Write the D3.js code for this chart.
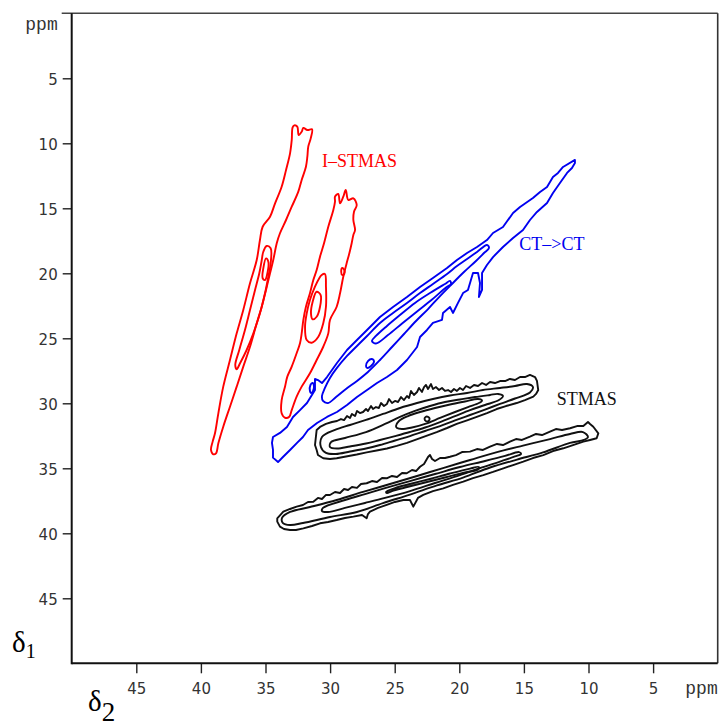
<!DOCTYPE html>
<html>
<head>
<meta charset="utf-8">
<title>STMAS contours</title>
<script src="https://cdn.jsdelivr.net/npm/d3@7"></script>
<style>
  body { margin: 0; background: #fff; }
  svg { display: block; }
  .tick text { font-family: "DejaVu Sans", sans-serif; font-size: 15px; fill: #333; }
  .tick line { stroke: #222; }
</style>
</head>
<body>
<script>
// contour rings, [delta2 ppm, delta1 ppm]
var redLeftOuter = [[32.90,8.77],[32.77,8.62],[32.54,8.72],[32.43,9.36],[32.20,9.11],[32.07,8.82],[31.76,8.98],[31.40,8.92],[31.50,9.62],[31.69,10.26],[31.76,11.03],[31.87,11.80],[32.20,12.82],[32.46,13.72],[32.97,14.88],[33.41,15.90],[33.88,16.92],[34.13,17.69],[34.40,18.98],[34.65,20.00],[34.96,21.28],[35.29,22.57],[35.68,23.85],[36.20,25.65],[36.72,27.18],[37.23,28.72],[37.75,30.26],[38.27,31.80],[38.65,33.08],[38.83,33.85],[39.04,33.92],[39.22,33.59],[39.09,32.95],[38.91,32.31],[38.65,30.77],[38.27,28.72],[37.75,26.67],[37.23,24.62],[36.72,22.82],[36.20,20.77],[35.68,18.98],[35.43,17.44],[35.22,16.42],[34.65,15.65],[34.26,14.62],[33.75,13.34],[33.41,12.05],[33.10,10.77],[32.97,9.75]];
var redLeftMid = [[34.91,17.90],[34.60,18.08],[34.60,19.23],[34.78,20.26],[35.04,21.54],[35.43,23.08],[35.94,24.62],[36.46,25.90],[36.97,26.92],[37.23,27.38],[37.34,27.05],[37.03,25.90],[36.59,24.36],[36.20,22.82],[35.81,21.28],[35.48,20.00],[35.29,18.98],[35.17,18.34]];
var redLeftIn = [[34.96,18.85],[34.78,19.11],[34.83,19.88],[35.04,20.52],[35.22,20.38],[35.17,19.62]];
var redRightOuter = [[29.62,14.11],[29.37,13.90],[29.23,14.62],[28.98,14.11],[28.79,13.59],[28.59,14.36],[28.20,14.23],[27.94,14.75],[28.15,15.26],[28.20,15.90],[28.07,16.67],[28.20,17.05],[28.33,17.69],[28.51,18.46],[28.72,19.23],[28.98,20.26],[29.23,21.54],[29.49,22.57],[30.01,23.59],[30.14,24.62],[30.53,25.65],[31.04,26.67],[31.56,27.69],[32.20,28.72],[32.59,29.49],[32.97,30.52],[33.16,31.03],[33.49,31.11],[33.75,30.77],[33.75,29.75],[33.49,28.72],[33.31,27.95],[32.97,27.18],[32.59,26.15],[32.33,25.38],[32.20,24.62],[32.07,23.59],[31.87,22.57],[31.56,21.54],[31.30,20.52],[31.04,19.75],[30.78,18.72],[30.47,17.69],[30.14,16.42],[29.75,15.13],[29.62,14.49]];
var redRightMid = [[30.65,20.13],[30.40,20.05],[30.32,21.03],[30.32,22.57],[30.53,23.85],[30.91,24.88],[31.42,25.34],[31.81,25.13],[31.94,24.11],[31.81,23.08],[31.56,22.05],[31.17,21.03],[30.84,20.38]];
var redRightIn = [[31.04,21.42],[30.73,21.67],[30.78,22.57],[31.04,23.34],[31.35,23.54],[31.48,23.08],[31.35,22.18]];
var redSpot = [[29.06,19.59],[28.90,19.75],[28.90,20.06],[29.06,20.13],[29.14,19.90]];

var blueOuter = [[11.05,11.28],[11.97,11.82],[12.36,12.28],[12.75,12.59],[13.21,13.36],[13.75,13.75],[14.30,14.21],[15.30,14.90],[15.84,15.36],[16.62,16.44],[17.39,16.90],[17.86,17.44],[18.63,17.98],[19.40,18.44],[20.18,18.98],[20.95,19.59],[22.04,20.36],[23.04,21.05],[24.05,21.82],[25.13,22.59],[26.14,23.36],[27.14,24.36],[27.92,25.13],[28.69,25.90],[29.47,26.90],[30.24,27.98],[30.63,28.44],[30.94,28.21],[31.17,28.13],[31.17,28.98],[31.79,29.98],[32.33,30.52],[32.87,31.05],[33.34,31.82],[33.88,32.28],[34.42,32.59],[34.50,33.05],[34.42,33.59],[34.42,34.18],[34.03,34.52],[33.65,34.13],[33.10,33.59],[32.56,33.05],[32.10,32.59],[31.71,32.05],[31.01,31.52],[30.24,31.05],[29.47,30.67],[28.69,30.13],[27.92,29.52],[27.14,28.98],[26.37,28.44],[25.60,27.98],[24.82,27.44],[24.05,26.67],[23.27,25.67],[23.04,24.90],[22.50,24.36],[22.04,23.82],[21.34,23.59],[21.26,23.05],[20.72,22.59],[20.49,23.05],[20.10,22.28],[19.71,21.52],[19.33,21.28],[19.17,20.75],[18.94,19.98],[18.55,19.98],[18.40,20.75],[18.48,21.82],[18.24,21.28],[18.24,19.98],[17.86,19.36],[17.39,18.75],[16.62,17.98],[15.84,17.28],[15.07,16.67],[14.53,15.90],[13.99,15.28],[13.21,14.59],[12.75,13.82],[12.21,13.05],[11.66,12.28],[11.28,11.90],[11.05,11.52]];
var blueMid = [[17.86,17.82],[18.63,18.36],[19.40,18.90],[20.18,19.44],[20.95,20.05],[22.04,20.82],[23.04,21.52],[24.05,22.28],[25.13,23.05],[26.14,23.82],[27.14,24.82],[27.92,25.59],[28.69,26.36],[29.47,27.28],[30.01,28.05],[30.40,28.82],[30.63,29.44],[30.55,29.82],[30.16,29.98],[29.54,29.52],[28.77,28.90],[27.92,28.28],[27.07,27.59],[26.14,26.67],[25.21,25.67],[24.28,24.67],[23.35,23.67],[22.42,22.75],[21.49,21.75],[20.57,20.82],[19.64,19.90],[18.71,19.05],[18.09,18.44],[17.70,18.05]];
var blueIn = [[20.72,20.59],[21.11,20.82],[22.27,21.52],[23.43,22.28],[24.59,23.21],[25.60,24.05],[26.45,24.82],[26.76,25.21],[26.45,25.40],[25.52,24.75],[24.43,23.86],[23.27,22.94],[22.11,22.02],[21.03,21.09],[20.64,20.82]];
var blueSpotA = [[27.22,27.13],[27.07,26.75],[26.76,26.59],[26.60,26.75],[26.83,27.13],[27.14,27.28]];
var blueSpotB = [[31.56,29.05],[31.52,28.59],[31.36,28.44],[31.25,28.67],[31.32,29.05],[31.48,29.21]];

var blackUpOuter = [[31.04,32.05],[30.78,31.82],[30.32,31.59],[29.85,31.44],[29.47,31.36],[29.16,31.21],[28.92,31.29],[28.69,30.98],[28.46,31.13],[28.31,30.82],[28.07,30.98],[27.92,30.59],[27.69,30.75],[27.45,30.67],[27.22,30.44],[27.07,30.59],[26.83,30.21],[26.68,30.44],[26.45,30.29],[26.22,30.36],[26.06,29.98],[25.83,30.21],[25.60,30.05],[25.44,29.67],[25.21,29.98],[24.98,29.82],[24.74,29.90],[24.51,29.52],[24.28,29.75],[24.05,29.44],[23.89,29.59],[23.74,29.05],[23.51,29.36],[23.27,29.13],[23.12,28.82],[22.89,29.13],[22.73,28.75],[22.58,28.59],[22.42,28.90],[22.19,28.52],[22.04,28.90],[21.80,28.75],[21.57,28.98],[21.34,28.82],[21.11,29.05],[20.87,28.98],[20.64,29.13],[20.41,28.90],[20.18,29.05],[19.95,28.82],[19.71,28.98],[19.48,28.67],[19.17,28.82],[18.86,28.59],[18.55,28.67],[18.24,28.44],[17.93,28.59],[17.62,28.36],[17.24,28.44],[16.85,28.29],[16.46,28.29],[16.08,28.13],[15.69,28.21],[15.30,27.98],[14.92,27.98],[14.53,27.82],[14.14,27.98],[13.99,28.28],[13.89,28.98],[14.06,29.28],[14.27,29.49],[14.92,29.75],[15.56,29.98],[16.39,30.21],[17.11,30.44],[17.86,30.75],[18.65,31.05],[19.40,31.32],[20.20,31.59],[20.95,31.90],[21.75,32.21],[22.50,32.48],[23.30,32.78],[24.05,33.05],[24.84,33.28],[25.60,33.48],[26.40,33.63],[27.17,33.78],[27.94,33.94],[28.77,34.09],[29.49,34.23],[30.01,34.28],[30.53,34.23],[30.94,33.98],[31.04,33.59],[31.17,33.21]];
var blackUpMid = [[30.63,32.59],[29.62,32.05],[28.46,31.67],[27.22,31.28],[25.91,30.82],[24.59,30.36],[23.27,29.98],[22.04,29.67],[20.72,29.40],[19.40,29.21],[18.17,28.98],[16.85,28.82],[15.69,28.67],[14.76,28.52],[14.30,28.75],[14.53,29.17],[15.69,29.63],[16.85,30.05],[18.01,30.48],[19.17,30.90],[20.33,31.32],[21.49,31.75],[22.65,32.13],[23.82,32.52],[24.97,32.86],[26.14,33.21],[27.22,33.48],[28.46,33.71],[29.55,33.90],[30.32,33.82],[30.71,33.36]];
var blackUpIn = [[29.93,32.98],[28.85,32.67],[27.22,32.21],[25.75,31.59],[24.59,31.05],[23.43,30.59],[22.27,30.21],[21.11,29.90],[19.95,29.71],[18.79,29.52],[17.62,29.36],[17.00,29.28],[16.62,29.44],[16.93,29.75],[18.01,30.13],[19.17,30.52],[20.33,30.98],[21.49,31.44],[22.65,31.86],[23.82,32.21],[24.97,32.52],[26.14,32.82],[27.22,33.09],[28.46,33.32],[29.47,33.48],[30.01,33.36]];
var blackUpCore = [[24.90,31.75],[24.67,31.36],[23.97,30.98],[23.04,30.67],[21.88,30.36],[20.72,30.09],[19.56,29.86],[18.55,29.67],[18.24,29.79],[18.48,29.98],[19.33,30.29],[20.33,30.67],[21.49,31.13],[22.65,31.59],[23.66,31.86],[24.44,31.98],[24.82,31.90]];
var blackUpTop = [[22.69,31.21],[22.61,31.05],[22.42,31.04],[22.30,31.17],[22.38,31.36],[22.57,31.38]];

var blackLowOuter = [[34.09,38.85],[33.62,38.34],[33.10,38.13],[32.59,37.95],[32.10,37.82],[31.71,37.59],[31.30,37.57],[30.94,37.28],[30.63,37.36],[30.32,37.05],[30.01,37.05],[29.62,36.82],[29.23,36.90],[28.92,36.59],[28.61,36.67],[28.31,36.44],[27.92,36.51],[27.61,36.21],[27.17,36.15],[26.76,35.98],[26.37,36.05],[25.98,35.75],[25.62,35.77],[25.21,35.59],[24.82,35.67],[24.43,35.36],[24.07,35.38],[23.66,35.13],[23.35,35.21],[23.04,34.88],[22.73,34.67],[22.42,34.13],[22.27,33.98],[22.11,34.28],[21.88,34.44],[21.49,34.21],[21.11,34.21],[20.72,34.11],[20.26,33.98],[19.79,33.75],[19.17,33.72],[18.63,33.52],[18.17,33.59],[17.62,33.34],[17.08,33.13],[16.62,33.21],[16.08,32.95],[15.61,32.75],[15.15,32.82],[14.53,32.57],[14.06,32.36],[13.60,32.44],[12.98,32.18],[12.52,31.98],[12.05,32.05],[11.43,31.92],[10.89,31.75],[10.40,31.75],[10.04,31.44],[9.88,31.59],[9.63,31.80],[9.24,32.31],[9.37,32.69],[9.88,32.82],[10.40,32.95],[11.20,33.21],[11.95,33.46],[12.75,33.67],[13.50,33.98],[14.30,34.21],[15.05,34.49],[15.84,34.75],[16.59,35.00],[17.39,35.28],[18.14,35.52],[18.94,35.75],[19.69,36.03],[20.49,36.28],[21.24,36.54],[22.04,36.75],[22.79,37.05],[23.20,37.28],[23.56,37.95],[23.82,37.44],[24.33,37.44],[24.98,37.59],[25.62,37.82],[26.29,38.05],[26.91,38.34],[27.07,38.52],[27.17,38.85],[27.53,38.59],[28.20,38.72],[28.85,38.82],[29.49,38.98],[30.16,39.13],[30.78,39.23],[31.40,39.44],[32.07,39.62],[32.64,39.75],[33.10,39.75],[33.57,39.67],[33.88,39.49],[34.09,39.10]];
var blackLowMid = [[33.72,38.82],[33.10,38.36],[31.56,37.98],[29.49,37.44],[27.45,36.82],[25.36,36.21],[23.27,35.59],[21.26,34.98],[19.17,34.36],[17.08,33.75],[15.07,33.25],[12.98,32.75],[11.43,32.36],[10.43,32.21],[10.04,32.59],[10.35,32.82],[11.43,33.05],[13.52,33.78],[15.53,34.33],[17.62,34.94],[19.71,35.71],[21.73,36.32],[23.82,37.02],[25.91,37.68],[27.92,38.36],[30.01,38.75],[32.10,39.21],[33.10,39.36],[33.65,39.21]];
var blackLowIn = [[30.55,38.05],[28.85,37.44],[27.30,36.98],[25.75,36.52],[23.82,35.98],[21.88,35.44],[19.95,34.90],[18.01,34.44],[16.46,34.05],[15.38,33.75],[15.22,33.90],[15.69,34.09],[16.85,34.48],[18.40,34.98],[19.95,35.52],[21.88,36.13],[23.82,36.75],[25.75,37.28],[27.30,37.67],[28.85,38.05],[30.16,38.36],[30.63,38.28]];
var blackLowCore = [[25.67,36.82],[24.98,36.52],[23.82,36.21],[22.27,35.82],[20.72,35.40],[19.17,35.02],[18.48,34.90],[18.55,35.09],[19.56,35.32],[21.11,35.71],[22.65,36.09],[24.20,36.48],[25.21,36.75],[25.60,36.90]];

var majorTicks = [5, 10, 15, 20, 25, 30, 35, 40, 45];
var minorTicks = d3.range(1, 50);
var seriesNames = ["I\u2013STMAS", "CT\u2013>CT", "STMAS"];
var labelAnchors = [[30.63, 11.82], [15.36, 18.21], [12.46, 30.13]];

var w = 720;
var h = 727;

var x = d3.scaleLinear().domain([50, 0]).range([71.7, 717.7]);
var y = d3.scaleLinear().domain([0, 50]).range([13.3, 663.3]);

var svg = d3.select("body").append("svg")
	.attr("width", w)
	.attr("height", h);

// frame: top and right edges
svg.append("line")
	.attr("x1", x(50) - 10).attr("x2", x(0))
	.attr("y1", y(0)).attr("y2", y(0))
	.attr("stroke", "#444").attr("stroke-width", 1.6);
svg.append("line")
	.attr("x1", x(0)).attr("x2", x(0))
	.attr("y1", y(0)).attr("y2", y(50))
	.attr("stroke", "#333").attr("stroke-width", 1.6);

// left axis
var gy = svg.append("g").attr("transform", "translate(" + x(50) + ",0)");
gy.call(d3.axisLeft(y).tickValues(minorTicks).tickSize(4).tickFormat(""));
gy.call(d3.axisLeft(y).tickValues(majorTicks).tickSize(9).tickPadding(5).tickSizeOuter(0));
gy.selectAll(".domain").remove();
gy.selectAll(".tick line").attr("stroke-width", 1.4);
gy.selectAll(".tick text").attr("dy", "0.4em");

// bottom axis
var gx = svg.append("g").attr("transform", "translate(0," + y(50) + ")");
gx.call(d3.axisBottom(x).tickValues(minorTicks).tickSize(5).tickFormat(""));
gx.call(d3.axisBottom(x).tickValues(majorTicks).tickSize(10).tickPadding(10).tickSizeOuter(0));
gx.selectAll(".domain").remove();
gx.selectAll(".tick line").attr("stroke-width", 1.4);

svg.append("line")
	.attr("x1", x(50)).attr("x2", x(50))
	.attr("y1", y(0)).attr("y2", y(50) + 1)
	.attr("stroke", "#111").attr("stroke-width", 2);
svg.append("line")
	.attr("x1", x(50)).attr("x2", x(0))
	.attr("y1", y(50)).attr("y2", y(50))
	.attr("stroke", "#111").attr("stroke-width", 2);

// unit labels
svg.append("text")
	.attr("x", x(50) - 14).attr("y", 30)
	.attr("text-anchor", "end")
	.style("font-family", "'Liberation Mono', monospace")
	.style("font-size", "18px").attr("fill", "#333")
	.text("ppm");
svg.append("text")
	.attr("x", x(0)).attr("y", 694)
	.attr("text-anchor", "end")
	.style("font-family", "'Liberation Mono', monospace")
	.style("font-size", "18px").attr("fill", "#333")
	.text("ppm");

// axis names
var d1 = svg.append("text").attr("x", 12).attr("y", 652)
	.style("font-family", "'Liberation Serif', serif").style("font-size", "29px");
d1.append("tspan").text("\u03b4");
d1.append("tspan").attr("dy", 6).style("font-size", "20px").text("1");
var d2 = svg.append("text").attr("x", 88).attr("y", 711)
	.style("font-family", "'Liberation Serif', serif").style("font-size", "29px");
d2.append("tspan").text("\u03b4");
d2.append("tspan").attr("dy", 10).style("font-size", "27px").text("2");

// contours
var ring = d3.line()
	.x(function (d) { return x(d[0]); })
	.y(function (d) { return y(d[1]); })
	.curve(d3.curveLinearClosed);
var smooth = d3.line()
	.x(function (d) { return x(d[0]); })
	.y(function (d) { return y(d[1]); })
	.curve(d3.curveCatmullRomClosed.alpha(0.5));

var contours = [
	{ pts: redLeftOuter, c: "#f00", f: smooth },
	{ pts: redLeftMid, c: "#f00", f: smooth },
	{ pts: redLeftIn, c: "#f00", f: smooth },
	{ pts: redRightOuter, c: "#f00", f: smooth },
	{ pts: redRightMid, c: "#f00", f: smooth },
	{ pts: redRightIn, c: "#f00", f: smooth },
	{ pts: redSpot, c: "#f00", f: smooth },
	{ pts: blueOuter, c: "#0000f0", f: ring },
	{ pts: blueMid, c: "#0000f0", f: smooth },
	{ pts: blueIn, c: "#0000f0", f: smooth },
	{ pts: blueSpotA, c: "#0000f0", f: smooth },
	{ pts: blueSpotB, c: "#0000f0", f: smooth },
	{ pts: blackUpOuter, c: "#111", f: ring },
	{ pts: blackUpMid, c: "#111", f: smooth },
	{ pts: blackUpIn, c: "#111", f: smooth },
	{ pts: blackUpCore, c: "#111", f: smooth },
	{ pts: blackUpTop, c: "#111", f: smooth },
	{ pts: blackLowOuter, c: "#111", f: ring },
	{ pts: blackLowMid, c: "#111", f: smooth },
	{ pts: blackLowIn, c: "#111", f: smooth },
	{ pts: blackLowCore, c: "#111", f: smooth }
];

svg.append("g").selectAll("path")
	.data(contours)
	.enter().append("path")
	.attr("d", function (d) { return d.f(d.pts); })
	.attr("fill", "none")
	.attr("stroke", function (d) { return d.c; })
	.attr("stroke-width", 1.9)
	.attr("stroke-linejoin", "round");

// series labels
var labelColors = ["#f00", "#0000f0", "#111"];
svg.append("g").selectAll("text")
	.data(seriesNames)
	.enter().append("text")
	.attr("x", function (d, i) { return x(labelAnchors[i][0]); })
	.attr("y", function (d, i) { return y(labelAnchors[i][1]); })
	.attr("fill", function (d, i) { return labelColors[i]; })
	.style("font-family", "'Liberation Serif', serif")
	.style("font-size", "18px")
	.text(function (d) { return d; });
</script>
</body>
</html>
